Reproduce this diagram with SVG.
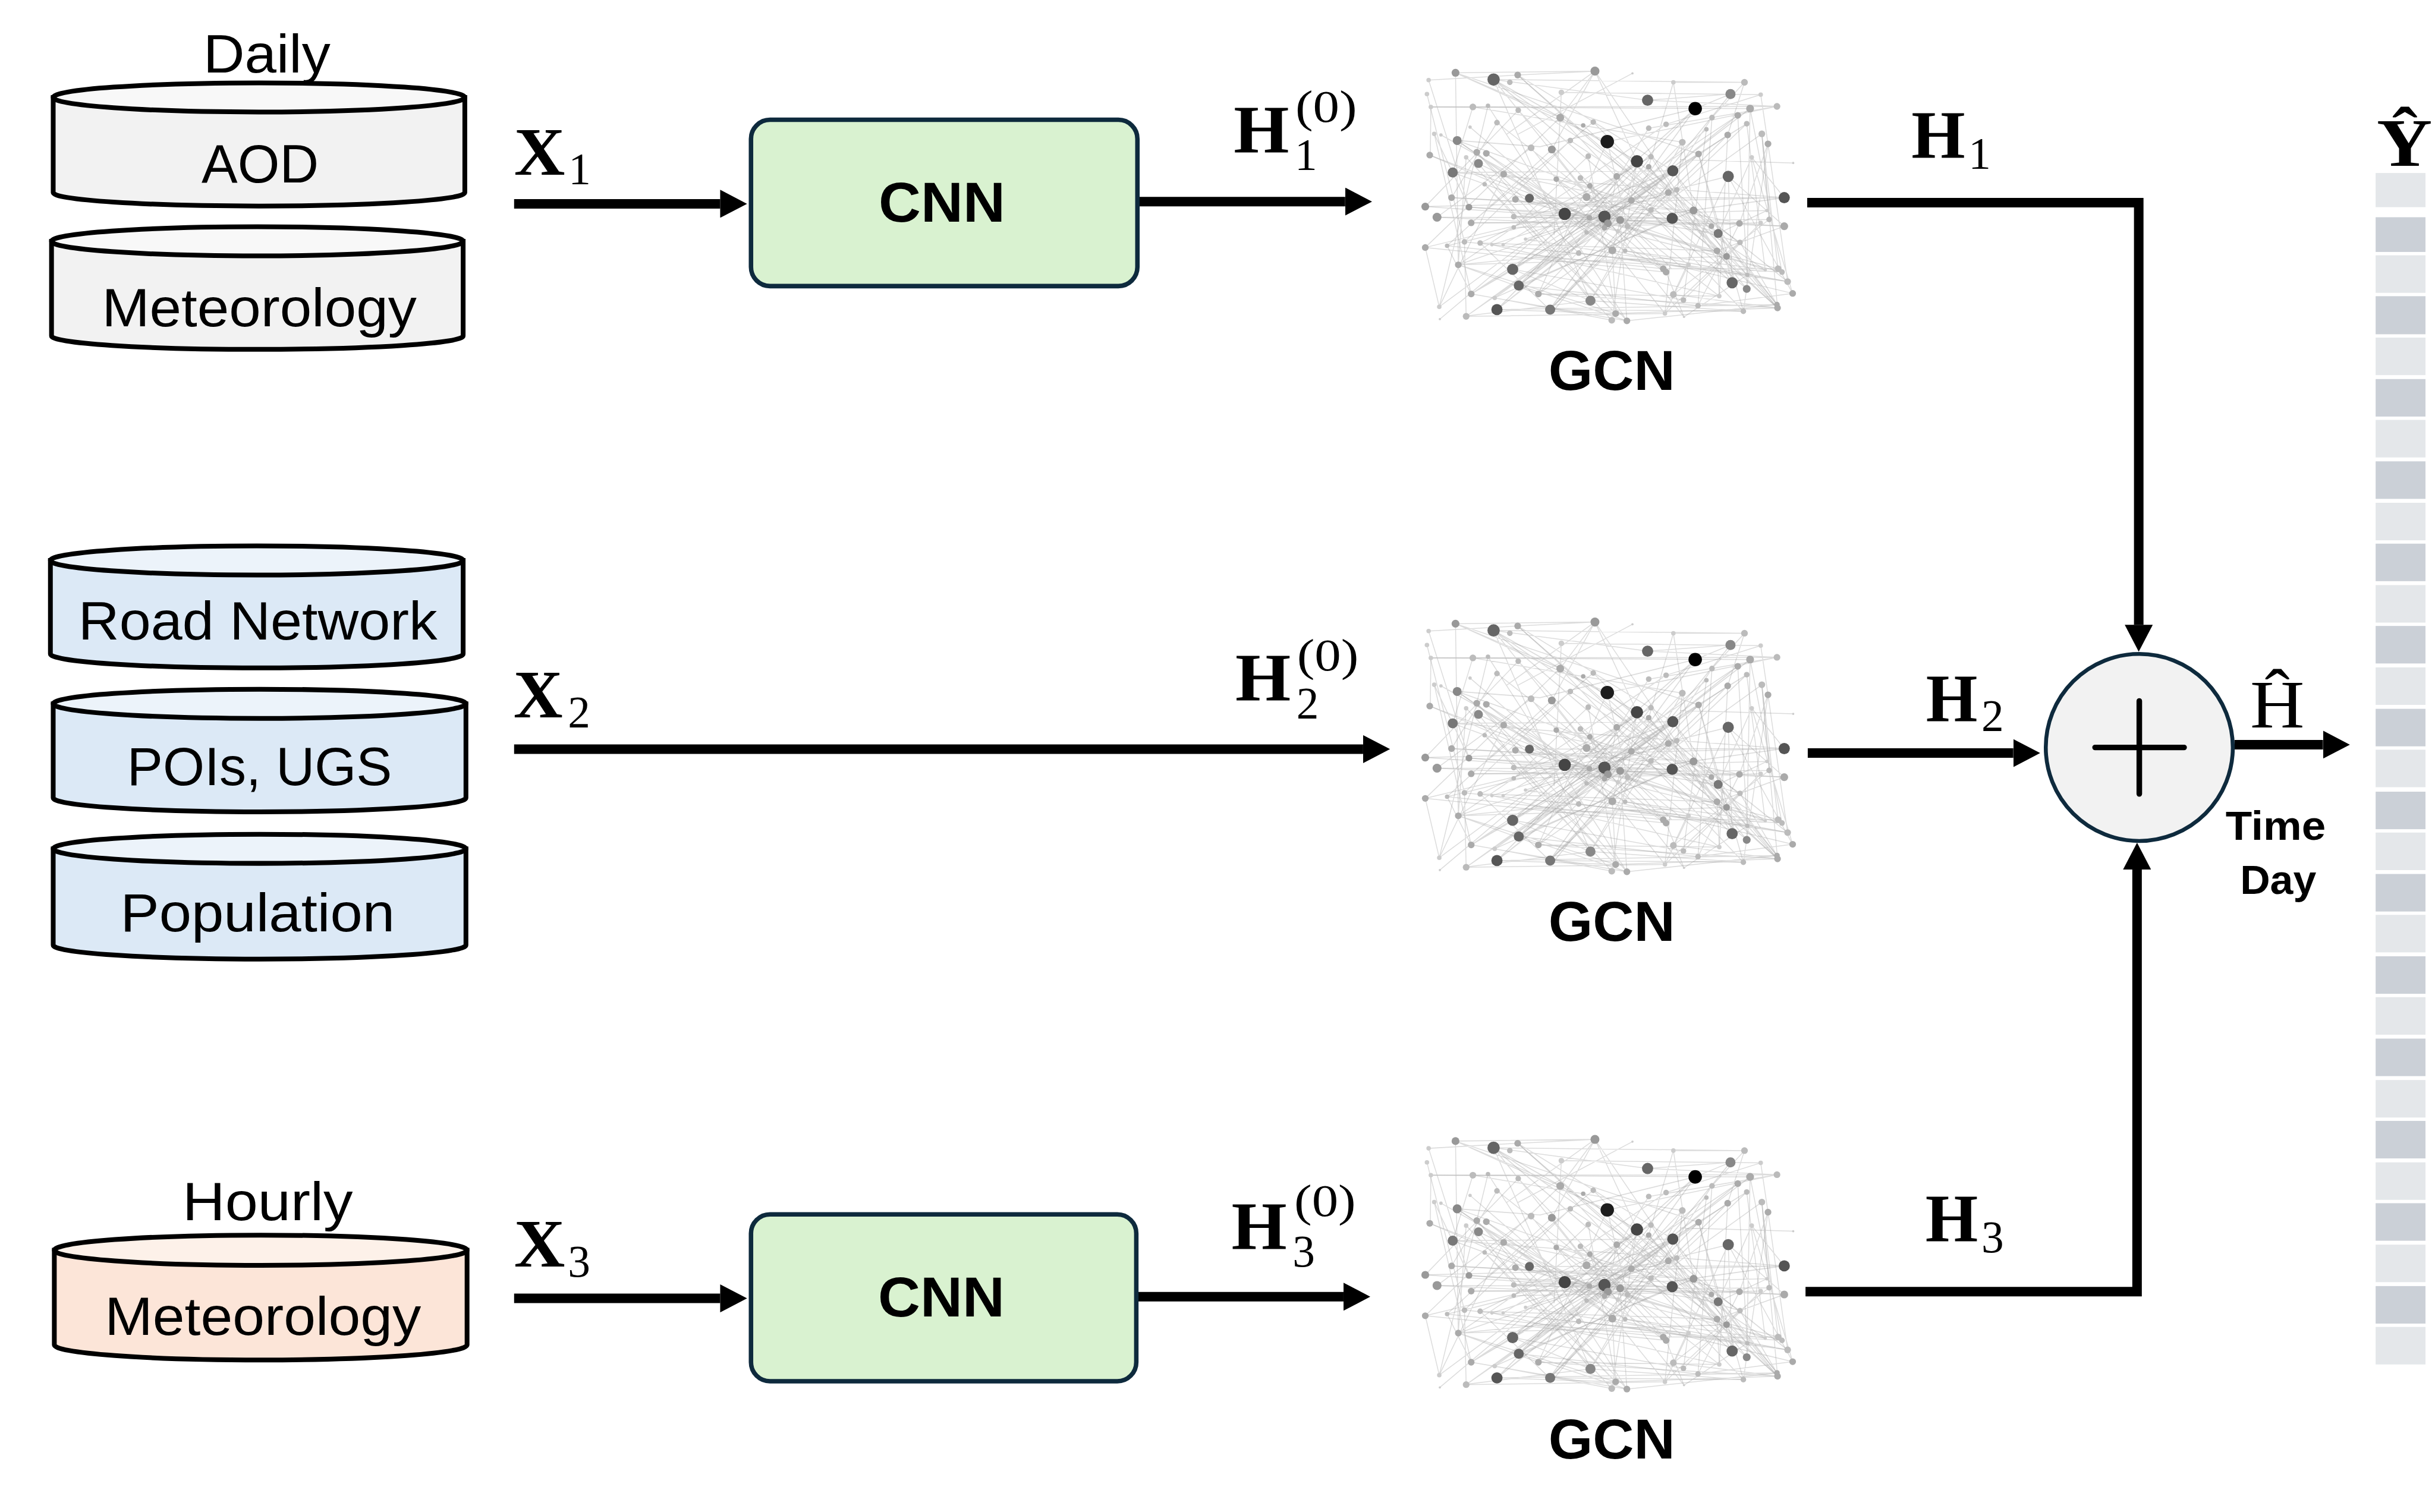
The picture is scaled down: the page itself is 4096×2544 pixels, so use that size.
<svg xmlns="http://www.w3.org/2000/svg" xmlns:xlink="http://www.w3.org/1999/xlink" width="4096" height="2544" viewBox="0 0 4096 2544">
<style>
.t{font-family:"Liberation Sans",Arial,sans-serif;font-size:96px;fill:#000}
.b{font-family:"Liberation Sans",Arial,sans-serif;font-size:100px;font-weight:700;fill:#000}
.b2{font-family:"Liberation Sans",Arial,sans-serif;font-size:72px;font-weight:700;fill:#000}
.s{font-family:"Liberation Serif","Times New Roman",serif;font-size:122px;font-weight:700;fill:#000}
.r{font-family:"Liberation Serif","Times New Roman",serif;font-size:122px;fill:#000}
.u{font-family:"Liberation Serif","Times New Roman",serif;font-size:80px;fill:#000}
.c{stroke:#000;stroke-width:8.5}
.box{fill:#d9f2d0;stroke:#0e2a3d;stroke-width:8}
.con{fill:none;stroke:#000;stroke-width:17;stroke-linejoin:miter}
.e1{fill:none;stroke:#8a8a8a;stroke-width:1.6;opacity:.3}
.e2{fill:none;stroke:#777;stroke-width:1.8;opacity:.26}
.k{fill:#000}.l{fill:#1a1a1a}.d4{fill:#444}.d5{fill:#555}.d6{fill:#666}.d7{fill:#777}.d8{fill:#888}.d9{fill:#999}.da{fill:#aaa}.db{fill:#bbb}.dc{fill:#ccc}
.cl{fill:#e4e7ea}.cd{fill:#cbd0d7}
</style>
<defs>
<filter id="soft" x="-5%" y="-5%" width="110%" height="110%"><feGaussianBlur stdDeviation="0.8"/></filter>
<marker id="arr" markerUnits="userSpaceOnUse" markerWidth="48" markerHeight="50" refX="0" refY="25" orient="auto"><path d="M0 0L48 25L0 50Z" fill="#000"/></marker>
<g id="graph" filter="url(#soft)">
<path class="e1" d="M2667 142L3068 417M2667 142L2865 387M2667 142L2840 537M2667 142L2942 179M2599 130L2786 210M2599 130L2870 253M2599 130L2604 473M2599 130L3033 275M2710 134L3083 458M2710 134L2987 305M2710 134L2848 127M2848 127L2771 267M2848 127L2923 288M2848 127L2690 240M2848 127L3066 448M2848 127L2786 210M2599 130L2848 127M2915 131L2710 240M2551 143L2623 370M2548 168L2615 432M2555 191L3173 190M2630 191L3004 254M2657 189L2905 573M2711 197L2985 480M2786 210L3113 556M2788 165L2775 420M2988 147L3115 147M2667 142L3115 147M2988 147L2944 298M2988 147L3024 376M3115 147L3085 241M3090 168L2942 179M3090 168L3027 194M3144 169L2975 222M3173 190L2944 229M2673 553L3173 544M2673 553L2885 560M2767 553L3113 556M2627 525L2865 387M2627 525L2987 305M2570 548L2794 382M2618 565L2865 387M2571 570L2794 382M2840 537L3057 210M2840 537L3004 254M2878 572L2923 288M2905 573L2893 393M2885 560L2879 447M2885 560L2651 329M2973 560L3107 433M3007 566L2975 486M2747 525L3146 239M2669 532L2986 390M2545 369L3186 353M2566 388L2986 390M2592 353L3024 376M2623 370L3186 404M2545 442L2794 382M2584 439L3086 315M2594 308L3186 353M2594 308L2987 305M2685 311L3106 399M2627 398L3159 392M2703 387L3155 376M2731 354L3186 353M2794 382L2986 390M2865 387L3068 417M2553 277L2731 354M2602 251L2794 382M2602 251L3068 417M2637 272L2905 573M2640 292L2840 537M2654 274L2965 480M2561 239L2623 370M2573 241L2838 389M2618 281L2885 560M2651 329L2878 572M2604 473L3083 458M2604 473L2819 452M2615 432L2618 565M2643 434L2767 553M2584 439L2627 525M2545 442L2570 548M2643 434L3066 448M2664 437L3070 529M2724 427L3192 503M3086 315L3093 505M3086 315L3201 524M3146 239L3174 550M3157 257L3113 556M3128 281L3068 417M3202 291L3000 285M3186 404L3066 448M3119 516L2944 298M3093 505L3033 275M3068 417L3173 544M3083 458L2987 305M3056 404L3174 550M3106 399L3032 546M3144 398L3006 536M3159 392L2988 526M3175 480L2970 480M3182 486L2745 460M3192 503L2819 452M3201 524L3032 546M3120 491L3007 566M3152 482L2902 448M3015 473L2973 560M3066 448L3174 550M3107 433L3173 544M3144 169L3157 257M3115 147L3057 210M3125 194L3119 516M2833 352L2893 393M2839 332L2865 407M2822 318L2906 404M2779 320L2893 393M2887 315L2871 399M2944 298L2838 389M2948 280L2865 387M2913 358L2779 320M2979 344L2703 387M2994 339L2745 480M2944 229L2806 450M3004 254L2747 525M3033 275L2669 532M3047 231L2712 510M3085 241L2618 565M3103 206L2627 525M3119 221L2767 553M2975 222L2604 473M2845 218L3082 458M2827 224L3120 491M2804 251L3152 482M2734 264L2973 560M2771 267L3007 566M2673 219L3070 529M2625 227L2879 447M2836 279L2885 560M2870 253L3056 404M2870 253L2747 525M2870 253L2906 404M2923 288L2879 447M2833 415L2879 447M2570 548L2685 311M2701 481L2840 537M2604 473L2618 281M3070 529L3066 448M2988 526L3174 550M3032 546L3173 544M2613 565L2840 537M2712 510L2905 573M2747 525L3174 550M2551 143L2710 134M2788 165L3144 169M2942 179L3173 190M2870 253L3173 190"/>
<path class="e1" d="M2555 191L2554 277M2561 239L2627 525M2630 191L2594 308M2657 189L2570 548M2673 219L2592 353M2711 197L2545 369M2734 264L2566 388M2786 210L2545 442M2771 267L2584 439M2845 218L2627 398M2804 251L2615 432M2836 279L2703 406M2887 315L2643 434M2913 358L2664 437M2948 280L2684 437M2979 344L2724 427M2994 339L2604 473M3004 254L2973 560M3057 210L3032 546M3047 231L3006 536M3085 241L3070 529M3103 206L3120 491M3119 221L3152 482M3125 194L3182 486M3146 239L3175 480M3157 257L3192 503M3128 281L3201 524M3086 315L2988 526M3033 275L3113 556M2987 305L3173 544M2944 298L3174 550M2948 280L3093 505M2887 315L3119 516M2839 332L3015 473M2833 352L3107 433M2822 318L2970 480M2779 320L2975 486M2731 354L3083 458M2706 356L3066 448M2685 311L2902 448M2654 274L2879 447M2637 272L2819 452M2640 292L2889 413M2602 251L2833 415M2594 308L2865 407M2553 277L2871 399M2545 369L2893 393M2566 388L2906 404M2592 353L2948 375M2623 370L3056 404M2627 398L3106 399M2703 406L3144 398M2703 387L3186 404M2545 442L2975 486M2584 439L2970 480M2615 432L3015 473M2604 473L2747 525M2604 473L2885 560M2627 525L2905 573M2669 532L2878 572M2618 565L2973 560M2701 481L3006 536M2712 510L3032 546M2747 525L3070 529M2840 537L3113 556M2885 560L3174 550M2905 573L3173 544M2879 447L3201 524M2902 448L3192 503M2819 452L3120 491M2865 407L3182 486M2871 399L3175 480M2893 393L3152 482M2906 404L3083 458M2986 390L3066 448M3024 376L3107 433M3068 417L3155 376M3106 399L3157 257M3159 392L3146 239M3186 353L3128 281M3186 404L3086 315"/>
<path class="e2" d="M2667 142L2923 288M2667 142L3093 505M2710 134L3174 550M2673 553L3027 194M2673 553L2987 305M2673 553L3103 206M2701 481L3027 194M2701 481L3119 221M2712 510L2923 288M2712 510L3125 194M2712 510L3024 376M2767 553L3027 194M2767 553L3085 241M2767 553L3033 275M2602 251L2750 262L3027 194M2923 288L3192 503M2923 288L2701 481M2987 305L2712 510M2987 305L2794 382M3090 168L2770 560M3125 194L2555 191M3186 353L2990 380"/>
<g id="graph-nodes">
<circle cx="3027" cy="194" r="12" class="k"/><circle cx="2870" cy="253" r="12" class="l"/><circle cx="2942" cy="179" r="10" class="d6"/><circle cx="2667" cy="142" r="11" class="d6"/><circle cx="2923" cy="288" r="11" class="d4"/><circle cx="2987" cy="305" r="10" class="d5"/><circle cx="3086" cy="315" r="10" class="d6"/><circle cx="3090" cy="168" r="9" class="d8"/><circle cx="3186" cy="353" r="10" class="d5"/><circle cx="2794" cy="382" r="11" class="d4"/><circle cx="2865" cy="387" r="11" class="d5"/><circle cx="2986" cy="390" r="10" class="d5"/><circle cx="3068" cy="417" r="8" class="d7"/><circle cx="2701" cy="481" r="10" class="d6"/><circle cx="2712" cy="510" r="9" class="d6"/><circle cx="2673" cy="553" r="10" class="d5"/><circle cx="2768" cy="553" r="9" class="d7"/><circle cx="2840" cy="537" r="9" class="d8"/><circle cx="3093" cy="505" r="10" class="d6"/><circle cx="3119" cy="516" r="7" class="d8"/><circle cx="2731" cy="354" r="8" class="d6"/><circle cx="2594" cy="308" r="9" class="d7"/><circle cx="2640" cy="292" r="8" class="d8"/><circle cx="2602" cy="251" r="8" class="d8"/>
<circle cx="2599" cy="130" r="7" class="d9"/><circle cx="2710" cy="134" r="6" class="da"/><circle cx="2848" cy="127" r="8" class="d9"/><circle cx="2696" cy="147" r="5" class="db"/><circle cx="2551" cy="143" r="4" class="dc"/><circle cx="2548" cy="168" r="4" class="dc"/><circle cx="2555" cy="191" r="4" class="dc"/><circle cx="2630" cy="191" r="6" class="db"/><circle cx="2657" cy="189" r="4" class="db"/><circle cx="2711" cy="197" r="5" class="db"/><circle cx="2786" cy="210" r="7" class="da"/><circle cx="2788" cy="165" r="5" class="dc"/><circle cx="2988" cy="147" r="4" class="dc"/><circle cx="3115" cy="147" r="6" class="db"/><circle cx="3144" cy="169" r="4" class="dc"/><circle cx="3125" cy="194" r="7" class="da"/><circle cx="3173" cy="190" r="6" class="db"/><circle cx="3103" cy="206" r="6" class="da"/><circle cx="3119" cy="221" r="5" class="db"/><circle cx="3057" cy="210" r="5" class="db"/><circle cx="2975" cy="222" r="5" class="db"/><circle cx="2944" cy="229" r="5" class="db"/><circle cx="2845" cy="218" r="5" class="db"/><circle cx="2827" cy="224" r="4" class="da"/><circle cx="2673" cy="219" r="5" class="db"/><circle cx="2625" cy="227" r="3" class="dc"/><circle cx="2561" cy="239" r="4" class="dc"/><circle cx="2573" cy="241" r="3" class="dc"/><circle cx="2553" cy="277" r="6" class="da"/><circle cx="2637" cy="272" r="6" class="da"/><circle cx="2654" cy="274" r="6" class="da"/><circle cx="2618" cy="281" r="4" class="dc"/><circle cx="2685" cy="311" r="6" class="da"/><circle cx="2651" cy="329" r="4" class="db"/><circle cx="2734" cy="264" r="6" class="db"/><circle cx="2771" cy="267" r="7" class="d9"/><circle cx="2804" cy="251" r="5" class="db"/><circle cx="2836" cy="279" r="5" class="db"/><circle cx="3004" cy="254" r="6" class="db"/><circle cx="3085" cy="241" r="6" class="da"/><circle cx="3047" cy="231" r="4" class="db"/><circle cx="3033" cy="275" r="6" class="da"/><circle cx="2948" cy="280" r="5" class="db"/><circle cx="2944" cy="298" r="5" class="da"/><circle cx="2887" cy="315" r="6" class="da"/><circle cx="2822" cy="318" r="5" class="db"/><circle cx="2779" cy="320" r="5" class="da"/><circle cx="3146" cy="239" r="6" class="db"/><circle cx="3157" cy="257" r="6" class="da"/><circle cx="3128" cy="281" r="4" class="dc"/><circle cx="3202" cy="291" r="2" class="dc"/><circle cx="2979" cy="344" r="6" class="da"/><circle cx="2994" cy="339" r="5" class="db"/><circle cx="2913" cy="358" r="6" class="da"/><circle cx="2833" cy="352" r="7" class="da"/><circle cx="2839" cy="332" r="5" class="da"/><circle cx="2706" cy="356" r="6" class="da"/><circle cx="2592" cy="353" r="6" class="da"/><circle cx="2623" cy="370" r="6" class="d9"/><circle cx="2545" cy="369" r="7" class="d9"/><circle cx="2566" cy="388" r="8" class="d9"/><circle cx="2627" cy="398" r="6" class="da"/><circle cx="2703" cy="387" r="5" class="db"/><circle cx="2703" cy="406" r="4" class="db"/><circle cx="2838" cy="389" r="5" class="da"/><circle cx="2893" cy="393" r="7" class="d9"/><circle cx="2871" cy="399" r="7" class="d9"/><circle cx="2865" cy="407" r="5" class="da"/><circle cx="2906" cy="404" r="5" class="db"/><circle cx="2948" cy="375" r="5" class="db"/><circle cx="3024" cy="376" r="7" class="d9"/><circle cx="3056" cy="404" r="5" class="da"/><circle cx="3106" cy="399" r="6" class="da"/><circle cx="3144" cy="398" r="4" class="dc"/><circle cx="3159" cy="392" r="5" class="db"/><circle cx="3186" cy="404" r="7" class="da"/><circle cx="3155" cy="376" r="3" class="dc"/><circle cx="2545" cy="442" r="6" class="da"/><circle cx="2584" cy="439" r="4" class="db"/><circle cx="2615" cy="432" r="5" class="db"/><circle cx="2643" cy="434" r="5" class="db"/><circle cx="2664" cy="437" r="3" class="dc"/><circle cx="2684" cy="437" r="3" class="dc"/><circle cx="2724" cy="427" r="3" class="dc"/><circle cx="2833" cy="415" r="4" class="db"/><circle cx="2889" cy="413" r="4" class="dc"/><circle cx="2879" cy="447" r="7" class="da"/><circle cx="2819" cy="452" r="5" class="db"/><circle cx="2902" cy="448" r="4" class="db"/><circle cx="3066" cy="448" r="6" class="da"/><circle cx="3083" cy="458" r="6" class="d9"/><circle cx="3107" cy="433" r="5" class="db"/><circle cx="2604" cy="473" r="6" class="da"/><circle cx="2970" cy="480" r="6" class="da"/><circle cx="2975" cy="486" r="6" class="da"/><circle cx="3015" cy="473" r="4" class="dc"/><circle cx="3175" cy="480" r="6" class="db"/><circle cx="3182" cy="486" r="5" class="db"/><circle cx="3152" cy="482" r="3" class="dc"/><circle cx="3120" cy="491" r="4" class="db"/><circle cx="3192" cy="503" r="6" class="db"/><circle cx="3201" cy="524" r="6" class="da"/><circle cx="2627" cy="525" r="6" class="da"/><circle cx="2747" cy="525" r="6" class="da"/><circle cx="2669" cy="532" r="4" class="dc"/><circle cx="2570" cy="548" r="4" class="dc"/><circle cx="2618" cy="565" r="6" class="db"/><circle cx="2571" cy="570" r="2" class="dc"/><circle cx="2885" cy="560" r="6" class="da"/><circle cx="2878" cy="572" r="6" class="db"/><circle cx="2905" cy="573" r="6" class="da"/><circle cx="2973" cy="560" r="4" class="dc"/><circle cx="3007" cy="566" r="2" class="dc"/><circle cx="2988" cy="526" r="6" class="db"/><circle cx="3006" cy="536" r="5" class="db"/><circle cx="3032" cy="546" r="5" class="db"/><circle cx="3070" cy="529" r="4" class="dc"/><circle cx="3113" cy="556" r="5" class="db"/><circle cx="3173" cy="544" r="5" class="da"/><circle cx="3174" cy="550" r="6" class="da"/><circle cx="2915" cy="131" r="2" class="dc"/>
</g>
</g>
</defs>
<g transform="scale(0.94204)">
<rect width="4348" height="2700" fill="#fff"/>
<g id="connectors">
<path class="con" marker-end="url(#arr)" d="M918 364H1286"/>
<path class="con" marker-end="url(#arr)" d="M2033 360H2402"/>
<path class="con" marker-end="url(#arr)" d="M918 1338H2434"/>
<path class="con" marker-end="url(#arr)" d="M3227 362H3819V1116"/>
<path class="con" marker-end="url(#arr)" d="M3228 1345H3595"/>
<path class="con" marker-end="url(#arr)" d="M3990 1330H4148"/>
<path class="con" marker-end="url(#arr)" d="M3224 2307H3816V1553"/>
<path class="con" marker-end="url(#arr)" d="M918 2319H1286"/>
<path class="con" marker-end="url(#arr)" d="M2030 2316H2399"/>
</g>
<text class="t" x="363" y="129" textLength="227" lengthAdjust="spacingAndGlyphs">Daily</text>
<g id="db-aod">
<path class="c" fill="#f2f2f2" d="M95 174V344A367.500 24 0 0 0 830 344V174Z"/>
<ellipse class="c" fill="#f8f8f8" cx="462.500" cy="174" rx="367.500" ry="26"/>
<text class="t" x="360" y="326" textLength="209" lengthAdjust="spacingAndGlyphs">AOD</text>
</g>
<g id="db-meteo-daily">
<path class="c" fill="#f2f2f2" d="M92 431V600A367.500 24 0 0 0 827 600V431Z"/>
<ellipse class="c" fill="#f8f8f8" cx="459.500" cy="431" rx="367.500" ry="26"/>
<text class="t" x="182" y="583" textLength="562" lengthAdjust="spacingAndGlyphs">Meteorology</text>
</g>
<g id="db-road">
<path class="c" fill="#dce9f6" d="M90 1001V1168A368.500 25 0 0 0 827 1168V1001Z"/>
<ellipse class="c" fill="#ecf3fa" cx="458.500" cy="1001" rx="368.500" ry="26"/>
<text class="t" x="140" y="1142" textLength="641" lengthAdjust="spacingAndGlyphs">Road Network</text>
</g>
<g id="db-pois">
<path class="c" fill="#dce9f6" d="M95 1257V1425A368.500 25 0 0 0 832 1425V1257Z"/>
<ellipse class="c" fill="#ecf3fa" cx="463.500" cy="1257" rx="368.500" ry="26"/>
<text class="t" x="227" y="1402" textLength="473" lengthAdjust="spacingAndGlyphs">POIs, UGS</text>
</g>
<g id="db-population">
<path class="c" fill="#dce9f6" d="M95 1516V1688A368.500 25 0 0 0 832 1688V1516Z"/>
<ellipse class="c" fill="#ecf3fa" cx="463.500" cy="1516" rx="368.500" ry="26"/>
<text class="t" x="215" y="1663" textLength="490" lengthAdjust="spacingAndGlyphs">Population</text>
</g>
<text class="t" x="326" y="2179" textLength="304" lengthAdjust="spacingAndGlyphs">Hourly</text>
<g id="db-meteo-hourly">
<path class="c" fill="#fce5d8" d="M97 2233V2402A368.500 27 0 0 0 834 2402V2233Z"/>
<ellipse class="c" fill="#fdf1e9" cx="465.500" cy="2233" rx="368.500" ry="27"/>
<text class="t" x="187" y="2384" textLength="565" lengthAdjust="spacingAndGlyphs">Meteorology</text>
</g>
<g id="lbl-x1"><text class="s" x="918" y="312" textLength="91" lengthAdjust="spacingAndGlyphs">X</text><text class="u" x="1015" y="329">1</text></g>
<g id="lbl-x2"><text class="s" x="917" y="1281" textLength="88" lengthAdjust="spacingAndGlyphs">X</text><text class="u" x="1014" y="1299">2</text></g>
<g id="lbl-x3"><text class="s" x="918" y="2262" textLength="91" lengthAdjust="spacingAndGlyphs">X</text><text class="u" x="1014" y="2280">3</text></g>
<g id="cnn1">
<rect class="box" x="1341" y="214" width="690" height="297" rx="34"/>
<text class="b" x="1682" y="396" text-anchor="middle" textLength="226" lengthAdjust="spacingAndGlyphs">CNN</text>
</g>
<g id="cnn2">
<rect class="box" x="1341" y="2169" width="688" height="298" rx="34"/>
<text class="b" x="1681" y="2351" text-anchor="middle" textLength="226" lengthAdjust="spacingAndGlyphs">CNN</text>
</g>
<g id="lbl-h10"><text class="s" x="2203" y="273" textLength="99" lengthAdjust="spacingAndGlyphs">H</text><text class="u" x="2312" y="304">1</text><text class="u" x="2313" y="218" textLength="110" lengthAdjust="spacingAndGlyphs">(0)</text></g>
<g id="lbl-h20"><text class="s" x="2206" y="1252" textLength="99" lengthAdjust="spacingAndGlyphs">H</text><text class="u" x="2315" y="1283">2</text><text class="u" x="2316" y="1197" textLength="110" lengthAdjust="spacingAndGlyphs">(0)</text></g>
<g id="lbl-h30"><text class="s" x="2199" y="2231" textLength="99" lengthAdjust="spacingAndGlyphs">H</text><text class="u" x="2308" y="2262">3</text><text class="u" x="2311" y="2172" textLength="110" lengthAdjust="spacingAndGlyphs">(0)</text></g>
<g id="gcn1"><use href="#graph" xlink:href="#graph"/><text class="b" x="2878" y="696" text-anchor="middle" textLength="226" lengthAdjust="spacingAndGlyphs">GCN</text></g>
<g id="gcn2"><use href="#graph" xlink:href="#graph" y="984"/><text class="b" x="2878" y="1680" text-anchor="middle" textLength="226" lengthAdjust="spacingAndGlyphs">GCN</text></g>
<g id="gcn3"><use href="#graph" xlink:href="#graph" y="1908"/><text class="b" x="2878" y="2605" text-anchor="middle" textLength="226" lengthAdjust="spacingAndGlyphs">GCN</text></g>
<g id="lbl-h1"><text class="s" x="3413" y="282" textLength="96" lengthAdjust="spacingAndGlyphs">H</text><text class="u" x="3515" y="302">1</text></g>
<g id="lbl-h2"><text class="s" x="3439" y="1289" textLength="92" lengthAdjust="spacingAndGlyphs">H</text><text class="u" x="3538" y="1306">2</text></g>
<g id="lbl-h3"><text class="s" x="3438" y="2217" textLength="94" lengthAdjust="spacingAndGlyphs">H</text><text class="u" x="3538" y="2237">3</text></g>
<g id="sum">
<circle cx="3820" cy="1335" r="167" fill="#f2f2f2" stroke="#0e2a3d" stroke-width="7"/>
<path d="M3741 1335H3900M3820 1252V1418" fill="none" stroke="#000" stroke-width="10" stroke-linecap="round"/>
</g>
<g id="lbl-hhat"><text class="r" x="4018" y="1299" textLength="97" lengthAdjust="spacingAndGlyphs">Ĥ</text></g>
<text class="b2" x="3974" y="1500" textLength="179" lengthAdjust="spacingAndGlyphs">Time</text>
<text class="b2" x="4000" y="1597" textLength="136" lengthAdjust="spacingAndGlyphs">Day</text>
<g id="lbl-yhat"><text class="s" x="4244" y="296" textLength="99" lengthAdjust="spacingAndGlyphs">Ŷ</text></g>
<g id="output">
<rect class="cl" x="4242" y="309" width="89" height="61"/><rect class="cd" x="4242" y="388" width="89" height="62"/><rect class="cl" x="4242" y="456" width="89" height="67"/><rect class="cd" x="4242" y="529" width="89" height="68"/><rect class="cl" x="4242" y="603" width="89" height="67"/><rect class="cd" x="4242" y="677" width="89" height="67"/><rect class="cl" x="4242" y="750" width="89" height="67"/><rect class="cd" x="4242" y="824" width="89" height="67"/><rect class="cl" x="4242" y="898" width="89" height="67"/><rect class="cd" x="4242" y="971" width="89" height="67"/><rect class="cl" x="4242" y="1045" width="89" height="67"/><rect class="cd" x="4242" y="1118" width="89" height="67"/><rect class="cl" x="4242" y="1192" width="89" height="67"/><rect class="cd" x="4242" y="1266" width="89" height="67"/><rect class="cl" x="4242" y="1339" width="89" height="67"/><rect class="cd" x="4242" y="1414" width="89" height="67"/><rect class="cl" x="4242" y="1487" width="89" height="67"/><rect class="cd" x="4242" y="1561" width="89" height="67"/><rect class="cl" x="4242" y="1634" width="89" height="67"/><rect class="cd" x="4242" y="1708" width="89" height="67"/><rect class="cl" x="4242" y="1781" width="89" height="67"/><rect class="cd" x="4242" y="1855" width="89" height="67"/><rect class="cl" x="4242" y="1929" width="89" height="67"/><rect class="cd" x="4242" y="2002" width="89" height="67"/><rect class="cl" x="4242" y="2076" width="89" height="67"/><rect class="cd" x="4242" y="2149" width="89" height="67"/><rect class="cl" x="4242" y="2223" width="89" height="67"/><rect class="cd" x="4242" y="2297" width="89" height="67"/><rect class="cl" x="4242" y="2370" width="89" height="67"/>
</g>
</g>
</svg>
